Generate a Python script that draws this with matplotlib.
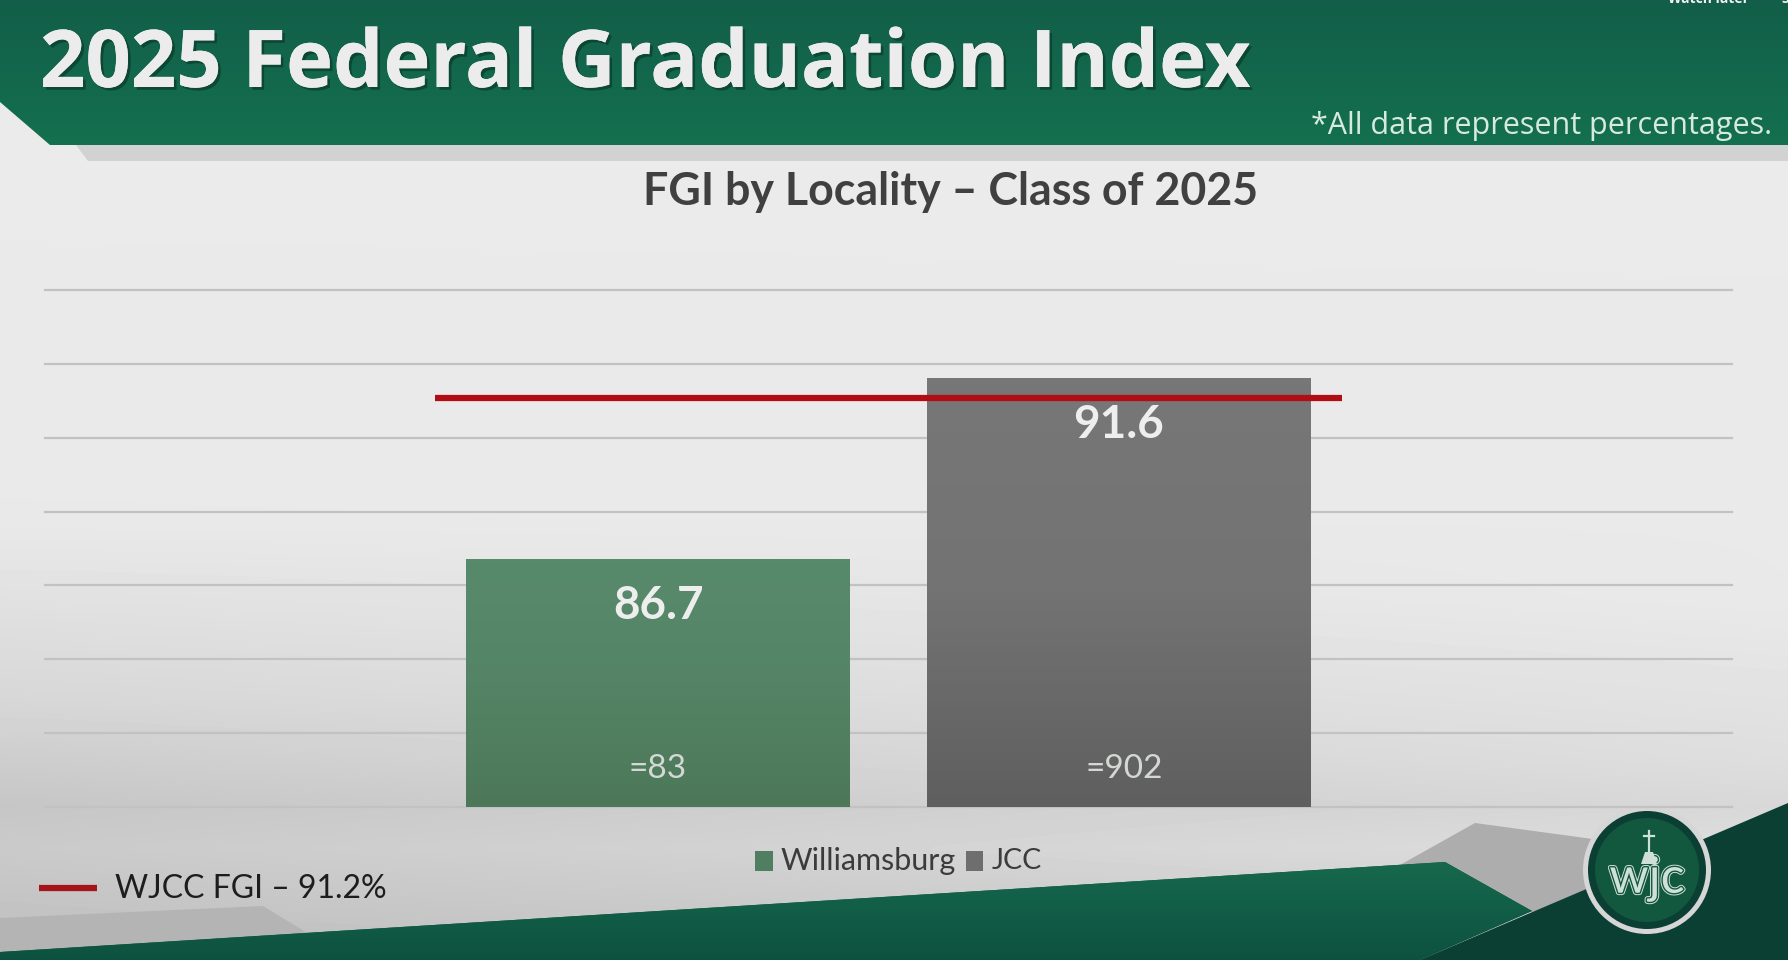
import numpy as np
import matplotlib
matplotlib.use("Agg")
import matplotlib.pyplot as plt
from matplotlib.patches import Polygon, Circle
import matplotlib.patheffects as pe
from matplotlib.colors import LinearSegmentedColormap

W, H = 1788, 960
FONT = ['Open Sans', 'Noto Sans', 'DejaVu Sans']
LATO = ['Lato', 'Open Sans', 'DejaVu Sans']
plt.rcParams['font.family'] = FONT

# data
series_names = ["Williamsburg", "JCC"]
series_values = [86.7, 91.6]
value_labels = ["86.7", "91.6"]
n_labels = ["=83", "=902"]
reference_line_drawn = 91.07
reference_label = "WJCC FGI – 91.2%"
y_ticks = [80, 82, 84, 86, 88, 90, 92, 94]
title = "2025 Federal Graduation Index"
subtitle = "*All data represent percentages."
chart_title = "FGI by Locality – Class of 2025"

fig = plt.figure(figsize=(W / 100, H / 100), dpi=100)

# slide layer, coordinates in pixels from the top left
bg = fig.add_axes([0, 0, 1, 1], zorder=0)
bg.set_xlim(0, W); bg.set_ylim(H, 0); bg.axis('off')

def vgrad(ax, c_top, c_bot, extent, clip=None, z=1):
    cm = LinearSegmentedColormap.from_list('g', [c_top, c_bot])
    im = ax.imshow(np.linspace(0, 1, 256)[:, None], cmap=cm, aspect='auto', extent=extent, zorder=z)
    if clip is not None:
        im.set_clip_path(clip)
    return im

# slide background: flat light grey, darkening downward, more on the left
yy = np.linspace(0, H, 240)
left_lum = np.interp(yy, [0, 520, 700, 807, 850, 960], [235, 233, 215, 198, 202, 190])
right_lum = np.interp(yy, [0, 600, 760, 807, 850, 960], [235, 233, 222, 216, 222, 200])
tt = np.linspace(0, 1, 240)[None, :]
lum = (left_lum[:, None] * (1 - tt) + right_lum[:, None] * tt) / 255
bg.imshow(lum, cmap='gray', vmin=0, vmax=1, aspect='auto', extent=(0, W, H, 0), zorder=0, interpolation='bilinear')
bg.set_xlim(0, W); bg.set_ylim(H, 0)

# header
bg.add_patch(Polygon([(50, 145), (W, 145), (W, 161), (88, 161), (76, 145)], fc='#d2d2d2', ec='none', zorder=1))
hdr = Polygon([(0, 0), (W, 0), (W, 145), (50, 145), (0, 102)], fc='none', ec='none', zorder=2)
bg.add_patch(hdr)
vgrad(bg, '#125e48', '#14704f', (0, W, 145, 0), hdr, 2)

# footer shapes
bg.add_patch(Polygon([(0, 918), (263, 906), (309, 934), (0, 953)], fc='#b4b4b4', ec='none', zorder=1))
bg.add_patch(Polygon([(1400, 865), (1475, 823), (1600, 840), (1600, 900), (1532, 912)], fc='#adadad', ec='none', zorder=1))
foot1 = Polygon([(0, 960), (0, 952), (1445, 862), (1532, 911), (1420, 960)], fc='#0f5b45', ec='none', zorder=2)
bg.add_patch(foot1)
vgrad(bg, '#17694d', '#0d5240', (0, W, 960, 860), foot1, 2)
foot2 = Polygon([(1420, 960), (W, 803), (W, 960)], fc='#0c3f33', ec='none', zorder=3)
bg.add_patch(foot2)

# logo
lx, ly = 1647, 870
cream = '#cfe0d6'
bg.add_patch(Circle((lx, ly), 64, fc='#d6d6d6', ec='none', zorder=4))
bg.add_patch(Circle((lx, ly), 59, fc='#0b3f33', ec='none', zorder=5))
bg.add_patch(Circle((lx, ly), 52, fc='#12583f', ec='none', zorder=6))
bg.text(lx, ly + 9, "wjc", color=cream, fontsize=36, ha='center', va='center', zorder=7, family=LATO,
        path_effects=[pe.Stroke(linewidth=3.4, foreground=cream), pe.Stroke(linewidth=2.0, foreground='#12583f'),
                      pe.Normal()])
bg.plot([1649, 1649], [831, 852], color=cream, lw=1.6, zorder=7)
bg.plot([1644, 1654], [836, 836], color=cream, lw=1.6, zorder=7)
bg.add_patch(Polygon([(1645, 852), (1653, 852), (1657, 864), (1641, 864)], fc=cream, ec='none', zorder=7))

# header text
bg.text(40, 66, title, color='#ececec', fontsize=57.3, fontweight='bold', va='center', ha='left', zorder=8,
        path_effects=[pe.withSimplePatchShadow(offset=(2, -2), shadow_rgbFace='#0a3b2c', alpha=0.7), pe.Normal()])
bg.text(1772, 126, subtitle, color='#d6eadf', fontsize=22, va='center', ha='right', zorder=8)
bg.text(1708, -1, "Watch later", color='#f2f2f2', fontsize=10, fontweight='bold', va='center', ha='center', zorder=8)
bg.text(1785, -1, "S", color='#f2f2f2', fontsize=10, fontweight='bold', va='center', ha='center', zorder=8)
bg.text(951, 192, chart_title, color='#404040', fontsize=32.2, fontweight='bold', va='center', ha='center', zorder=8,
        family=LATO)

# chart
left, right, top, bottom = 45, 1732, 290, 807
ax = fig.add_axes([left / W, 1 - bottom / H, (right - left) / W, (bottom - top) / H], zorder=2)
ax.patch.set_alpha(0)
ax.set_xlim(-0.5, 0.5)
ax.set_ylim(y_ticks[0], y_ticks[-1])
ax.set_yticks(y_ticks)
ax.set_xticks([])
ax.tick_params(left=False, labelleft=False)
for s in ax.spines.values():
    s.set_visible(False)
ax.grid(axis='y', color='#c2c2c2', lw=1.6, zorder=1)
ax.set_axisbelow(True)
for gl in ax.get_ygridlines():
    gl.set_clip_on(False)

bw = 384 / (right - left)
offsets = [-0.1366, 0.1366]
bar_grad = [[(0, '#578a6b'), (0.5, '#548465'), (1, '#4c7859')], [(0, '#777777'), (0.5, '#737373'), (1, '#5f5f5f')]]
for i, (name, v) in enumerate(zip(series_names, series_values)):
    b = ax.bar(offsets[i], v - y_ticks[0], bw, bottom=y_ticks[0], color='none', zorder=2, label=name)[0]
    cm = LinearSegmentedColormap.from_list('b', bar_grad[i])
    x0 = offsets[i] - bw / 2
    im = ax.imshow(np.linspace(0, 1, 64)[:, None], cmap=cm, aspect='auto', zorder=2,
                   extent=(x0, x0 + bw, y_ticks[0], v))
    ax.set_xlim(-0.5, 0.5); ax.set_ylim(y_ticks[0], y_ticks[-1])
    ax.text(offsets[i], v - 1.15, value_labels[i], color='#eeeeee', fontsize=33,
            fontweight='bold', ha='center', va='center_baseline', zorder=4, family=LATO)
    ax.text(offsets[i] + (0.003 if i == 1 else 0), y_ticks[0] + 1.12, n_labels[i], color='#d4d8d4', fontsize=24,
            ha='center', va='center_baseline', zorder=4, family=LATO)

ax.plot([(435 - 888.5) / (right - left), (1342 - 888.5) / (right - left)], [reference_line_drawn] * 2,
        color='#b00d14', lw=4.5, solid_capstyle='butt', zorder=3)

# legends
bg.add_patch(Polygon([(755, 851), (773, 851), (773, 871), (755, 871)], fc='#4f7f60', ec='none', zorder=8))
bg.add_patch(Polygon([(966, 851), (983, 851), (983, 871), (966, 871)], fc='#6e6e6e', ec='none', zorder=8))
bg.text(781, 861, series_names[0], color='#3c3c3c', fontsize=22, va='center', ha='left', zorder=8, family=LATO)
bg.text(992, 861, series_names[1], color='#3c3c3c', fontsize=20.5, va='center', ha='left', zorder=8, family=LATO)
bg.plot([39, 97], [888, 888], color='#a51418', lw=4.5, solid_capstyle='butt', zorder=8)
bg.text(115, 889, reference_label, color='#1d1d1d', fontsize=23, va='center', ha='left', zorder=8, family=LATO)
bg.set_xlim(0, W); bg.set_ylim(H, 0)

fig.savefig('out.png', dpi=100)
